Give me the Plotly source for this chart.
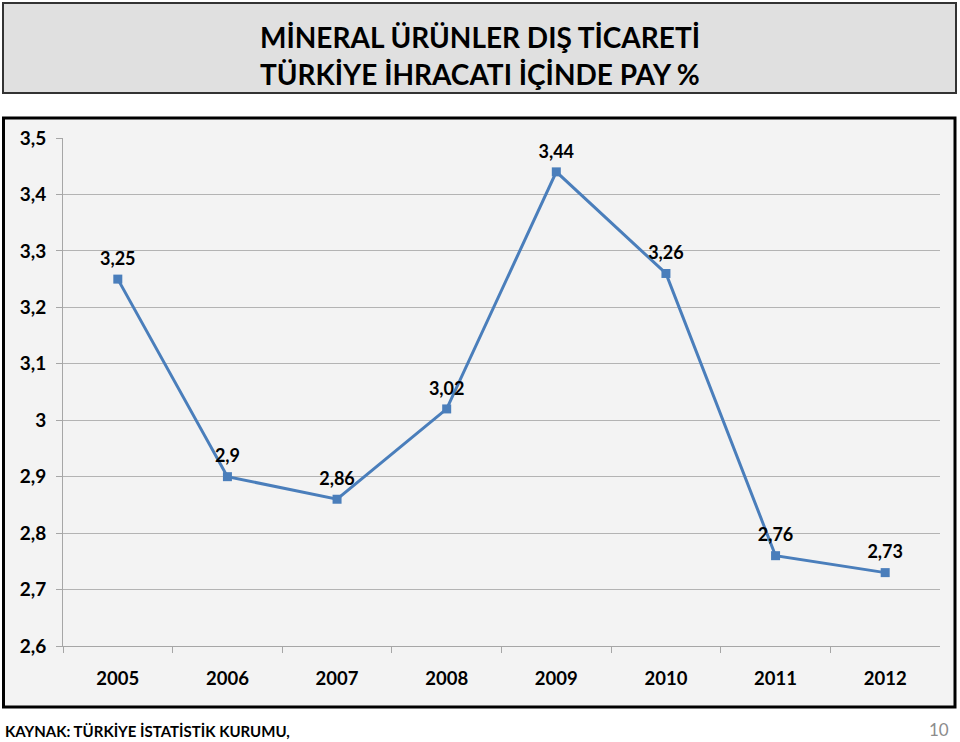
import plotly.graph_objects as go

years = ["2005", "2006", "2007", "2008", "2009", "2010", "2011", "2012"]
shares = [3.25, 2.9, 2.86, 3.02, 3.44, 3.26, 2.76, 2.73]
ytick_vals = [2.6, 2.7, 2.8, 2.9, 3.0, 3.1, 3.2, 3.3, 3.4, 3.5]
ytick_text = ["2,6", "2,7", "2,8", "2,9", "3", "3,1", "3,2", "3,3", "3,4", "3,5"]
title_lines = ["MİNERAL ÜRÜNLER DIŞ TİCARETİ", "TÜRKİYE İHRACATI İÇİNDE PAY %"]
source_text = "KAYNAK: TÜRKİYE İSTATİSTİK KURUMU,"
page_no = "10"

W, H = 960, 742
FONT = "Lato"

def px(x):
    return x / W

def py(y):
    return 1 - y / H

fig = go.Figure()
fig.add_trace(go.Scatter(
    x=years, y=shares,
    mode="lines+markers",
    line=dict(color="#4a7ebb", width=3),
    marker=dict(symbol="square", size=9, color="#4a7ebb"),
    hoverinfo="skip",
))
# value labels (invisible larger markers give the label offset above each point)
fig.add_trace(go.Scatter(
    x=years, y=shares,
    mode="markers+text",
    marker=dict(size=14, color="rgba(0,0,0,0)"),
    texttemplate="%{y}",
    textposition="top center",
    textfont=dict(family=FONT, size=18, color="#000000", weight="bold"),
    cliponaxis=False,
    hoverinfo="skip",
))

shapes = [
    dict(type="rect", xref="paper", yref="paper",
         x0=px(3), x1=px(956), y0=py(93), y1=py(3),
         fillcolor="#e0e0e0", line=dict(color="#333333", width=2), layer="below"),
    dict(type="rect", xref="paper", yref="paper",
         x0=px(3.5), x1=px(955), y0=py(707), y1=py(118),
         fillcolor="#f3f3f3", line=dict(color="#000000", width=3), layer="below"),
]

annotations = [
    dict(text=title_lines[0], x=px(480), y=py(37), xref="paper", yref="paper",
         showarrow=False, xanchor="center", yanchor="middle",
         font=dict(family=FONT, size=28, color="#000000", weight="bold")),
    dict(text=title_lines[1], x=px(480), y=py(74), xref="paper", yref="paper",
         showarrow=False, xanchor="center", yanchor="middle",
         font=dict(family=FONT, size=28, color="#000000", weight="bold")),
    dict(text=source_text, x=px(3), y=py(731), xref="paper", yref="paper",
         showarrow=False, xanchor="left", yanchor="middle",
         font=dict(family=FONT, size=15, color="#000000", weight="bold")),
    dict(text=page_no, x=px(951), y=py(729), xref="paper", yref="paper",
         showarrow=False, xanchor="right", yanchor="middle",
         font=dict(family=FONT, size=17, color="#8c8c8c")),
]

fig.update_layout(
    width=W, height=H,
    autosize=False,
    margin=dict(l=0, r=0, t=0, b=0, pad=0, autoexpand=False),
    paper_bgcolor="#ffffff",
    plot_bgcolor="rgba(0,0,0,0)",
    separators=",.",
    showlegend=False,
    shapes=shapes,
    annotations=annotations,
    xaxis=dict(
        domain=[px(63), px(940)],
        type="category",
        range=[-0.5, 7.5],
        automargin=False,
        showgrid=False,
        showline=True, linecolor="#a6a6a6", linewidth=1,
        ticks="outside", tickson="boundaries", ticklen=6, tickcolor="#a6a6a6",
        tickfont=dict(family=FONT, size=18.5, color="#000000", weight="bold"),
        ticklabelstandoff=16,
        fixedrange=True,
    ),
    yaxis=dict(
        domain=[py(646), py(138)],
        range=[2.6, 3.5],
        automargin=False,
        tickvals=ytick_vals, ticktext=ytick_text,
        showgrid=True, gridcolor="#b3b3b3", gridwidth=1,
        showline=True, linecolor="#a6a6a6", linewidth=1,
        ticks="outside", ticklen=6, tickcolor="#a6a6a6",
        tickfont=dict(family=FONT, size=19, color="#000000", weight="bold"),
        ticklabelstandoff=6,
        zeroline=False,
        fixedrange=True,
    ),
)

fig.write_html(
    "out.html",
    config={"displayModeBar": False},
    post_script="document.body.style.margin='0';document.body.style.padding='0';",
)
